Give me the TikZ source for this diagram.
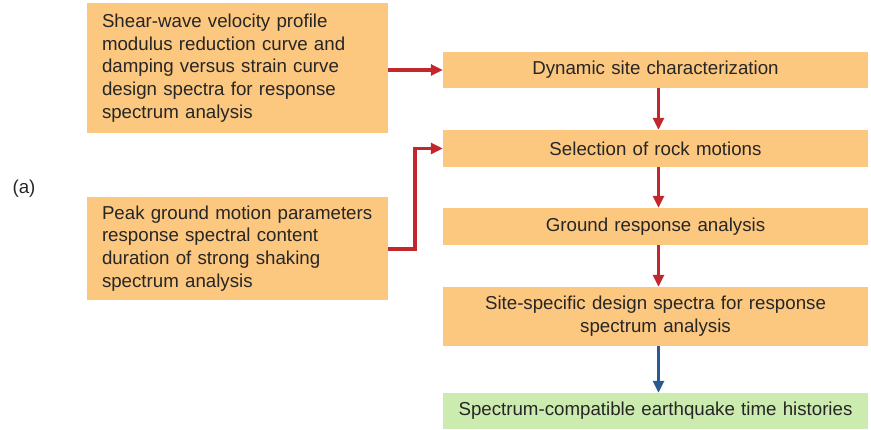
\documentclass[tikz,border=0pt]{standalone}
\usepackage{fontspec}
\setmainfont{Liberation Sans}
\usetikzlibrary{arrows.meta}
\definecolor{boxor}{HTML}{FCC77F}
\definecolor{boxgr}{HTML}{CCEBAF}
\definecolor{arred}{HTML}{C1272D}
\definecolor{arblue}{HTML}{2B5A92}
\definecolor{txt}{HTML}{262626}
\begin{document}
\begin{tikzpicture}[x=1pt,y=-1pt,
  orbox/.style={fill=boxor,draw=none,inner sep=0pt,text=txt,font=\fontsize{18.7}{22.8}\selectfont},
  leftbox/.style={orbox,minimum width=301,align=left,text width=271},
  rightbox/.style={orbox,minimum width=425,align=center,text width=415},
  grbox/.style={rightbox,fill=boxgr},
  redarr/.style={draw=arred,line width=3.3pt,-{Triangle[length=12pt,width=11pt]}},
  bluearr/.style={draw=arblue,line width=3.3pt,-{Triangle[length=12pt,width=11pt]}}]
\useasboundingbox (0,0) rectangle (871,430);
\node[leftbox,minimum height=130] (a) at (237.5,68) {Shear-wave velocity profile\\modulus reduction curve and\\damping versus strain curve\\design spectra for response\\spectrum analysis};
\node[leftbox,minimum height=103] (b) at (237.5,248.5) {Peak ground motion parameters\\response spectral content\\duration of strong shaking\\spectrum analysis};
\node[rightbox,minimum height=36] (dyn) at (655.5,70) {Dynamic site characterization};
\node[rightbox,minimum height=37] (sel) at (655.5,148.5) {Selection of rock motions};
\node[rightbox,minimum height=37] (gra) at (655.5,226.5) {Ground response analysis};
\node[rightbox,minimum height=59] (ssd) at (655.5,316.5) {Site-specific design spectra for response\\spectrum analysis};
\node[grbox,minimum height=36] (spc) at (655.5,411) {Spectrum-compatible earthquake time histories};
\node[text=txt,font=\fontsize{18.7}{22}\selectfont] (lab) at (24,189) {(a)};
\coordinate (elb) at (415,249);
\draw[redarr] (a.east |- dyn.west) -- (dyn.west);
\draw[redarr] (b.east |- elb) -- (elb) |- (sel.west);
\draw[redarr] ([xshift=3]dyn.south) -- ([xshift=3]sel.north);
\draw[redarr] ([xshift=3]sel.south) -- ([xshift=3]gra.north);
\draw[redarr] ([xshift=3]gra.south) -- ([xshift=3]ssd.north);
\draw[bluearr] ([xshift=3]ssd.south) -- ([xshift=3]spc.north);
\end{tikzpicture}
\end{document}
